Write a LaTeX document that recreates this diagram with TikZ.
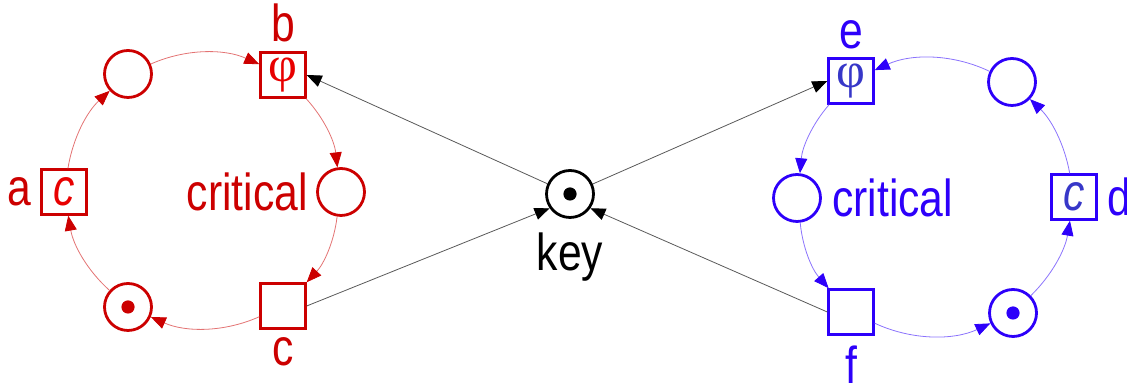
\documentclass[tikz,border=0pt]{standalone}
\usepackage{fontspec}
\setmainfont[FakeStretch=0.82]{Liberation Sans}
\newfontfamily\phifont{Liberation Serif}
\usetikzlibrary{positioning,arrows.meta}
\definecolor{netred}{RGB}{204,0,0}
\definecolor{netredin}{RGB}{232,0,0}
\definecolor{netblue}{RGB}{45,0,250}
\definecolor{netbluein}{RGB}{55,55,200}
\tikzset{
  place/.style={circle,draw,line width=1.4pt,minimum size=23.5pt,inner sep=0pt},
  trans/.style={rectangle,draw,line width=1.2pt,minimum size=22.5pt,inner sep=0pt},
  marked/.style={path picture={\fill (path picture bounding box.center) circle (3.3pt);}},
  lbl/.style={inner sep=0pt,font=\fontsize{26}{30}\selectfont},
  phi/.style={font=\fontsize{21}{24}\selectfont\phifont},
  ctext/.style={font=\fontsize{25}{30}\selectfont\itshape},
  arc/.style={line width=0.4pt,looseness=0.9},
  redarc/.style={arc,draw=netred!55,-{Triangle[length=7.5pt,width=6pt,color=netred]}},
  bluearc/.style={arc,draw=netblue!55,-{Triangle[length=7.5pt,width=6pt,color=netblue]}},
  keyarc/.style={arc,draw=black!65,-{Triangle[length=7.5pt,width=6pt,color=black]}}
}

\begin{document}
\begin{tikzpicture}[x=0.5pt,y=0.5pt]
  \useasboundingbox (0,0) rectangle (1127,383);

  % left net
  \begin{scope}[color=netred]
    \node[trans] (tA) at (64,191)  {\textcolor{netredin}{\fontsize{26}{30}\selectfont\itshape c}};
    \node[place] (pA1) at (128,309) {};
    \node[trans] (tB) at (283,308) {\raisebox{-3pt}{\textcolor{netredin}{\fontsize{25}{28}\selectfont\phifont φ}}};
    \node[place] (critA) at (341,191) {};
    \node[trans] (tC) at (283,77)  {};
    \node[place,marked] (pA2) at (128,76) {};

    \node[lbl,left=4.5pt of tA]     (labA) {a};
    \node[lbl,above=4.5pt of tB]    (labB) {b};
    \node[lbl,below=3.5pt of tC]    (labC) {c};
    \node[lbl,left=4pt of critA]    (labCritA) {critical};

    \draw[redarc] (tA) to[bend left=19] (pA1);
    \draw[redarc] (pA1) to[bend left=24] (tB);
    \draw[redarc] (tB) to[bend left=18] (critA);
    \draw[redarc] (critA) to[bend left=18] (tC);
    \draw[redarc] (tC) to[bend left=24] (pA2);
    \draw[redarc] (pA2) to[bend left=19] (tA);
  \end{scope}

  % right net
  \begin{scope}[color=netblue]
    \node[trans] (tE) at (851,302)  {\raisebox{-3pt}{\textcolor{netbluein}{\fontsize{25}{28}\selectfont\phifont φ}}};
    \node[place] (critB) at (797,185) {};
    \node[trans] (tF) at (851,71)   {};
    \node[place,marked] (pB2) at (1013,70) {};
    \node[trans] (tD) at (1074,186) {\textcolor{netbluein}{\fontsize{26}{30}\selectfont\itshape c}};
    \node[place] (pB1) at (1012,301) {};

    \node[lbl,above=4pt of tE]      (labE) {e};
    \node[lbl,below=5pt of tF]      (labF) {f};
    \node[lbl,right=4.5pt of tD]    (labD) {d};
    \node[lbl,right=5pt of critB]   (labCritB) {critical};

    \draw[bluearc] (tE) to[bend right=18] (critB);
    \draw[bluearc] (critB) to[bend right=18] (tF);
    \draw[bluearc] (tF) to[bend right=25] (pB2);
    \draw[bluearc] (pB2) to[bend right=18] (tD);
    \draw[bluearc] (tD) to[bend right=18] (pB1);
    \draw[bluearc] (pB1) to[bend right=25] (tE);
  \end{scope}

  % shared key
  \node[place,marked] (key) at (570,189) {};
  \node[lbl,below=7pt of key] (labKey) {key};

  \draw[keyarc] (key) -- (tB.east);
  \draw[keyarc] (key) -- (tE.west);
  \draw[keyarc] (tC.east) -- (key.-145);
  \draw[keyarc] (tF.west) -- (key.-35);
\end{tikzpicture}
\end{document}
